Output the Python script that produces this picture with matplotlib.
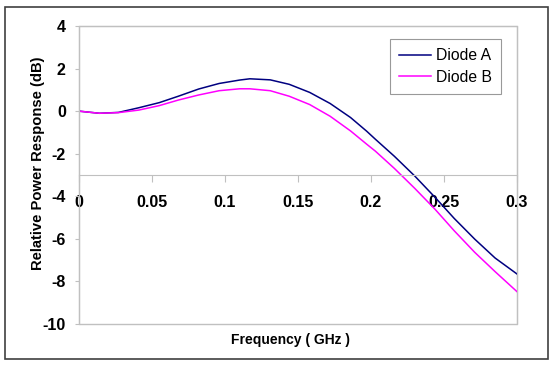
import matplotlib
matplotlib.use("Agg")
import matplotlib.pyplot as plt
from matplotlib.patches import Rectangle

plt.rcParams['font.family'] = ['Liberation Sans', 'DejaVu Sans']
plt.rcParams['axes.unicode_minus'] = False

# frequency points (GHz) and responses (dB)
freq = [0.0, 0.014, 0.027, 0.041, 0.055, 0.068, 0.082, 0.096, 0.11, 0.117,
        0.131, 0.144, 0.158, 0.172, 0.186, 0.197, 0.203, 0.216, 0.23, 0.244,
        0.257, 0.271, 0.285, 0.3]
diode_a = [0.00, -0.10, -0.06, 0.16, 0.40, 0.70, 1.04, 1.30, 1.46, 1.52,
           1.47, 1.26, 0.88, 0.36, -0.30, -0.94, -1.32, -2.12, -3.05, -4.06,
           -5.04, -6.01, -6.90, -7.65]
diode_b = [0.00, -0.10, -0.07, 0.05, 0.26, 0.52, 0.76, 0.96, 1.05, 1.05,
           0.96, 0.70, 0.31, -0.24, -0.93, -1.55, -1.88, -2.69, -3.63, -4.62,
           -5.62, -6.63, -7.54, -8.48]

xticks = [0, 0.05, 0.1, 0.15, 0.2, 0.25, 0.3]
xtick_labels = ['0', '0.05', '0.1', '0.15', '0.2', '0.25', '0.3']
yticks = [-10, -8, -6, -4, -2, 0, 2, 4]

grey = '#c0c0c0'

fig = plt.figure(figsize=(5.55, 3.65), dpi=100)
ax = fig.add_axes([79 / 555, 41 / 365, 438 / 555, 298 / 365])

ax.plot(freq, diode_a, color='#000080', lw=1.1, label='Diode A')
ax.plot(freq, diode_b, color='#ff00ff', lw=1.1, label='Diode B')

ax.set_xlim(0, 0.3)
ax.set_ylim(-10, 4)

# Excel-style: category axis crosses at -3
for side in ['top', 'right', 'left']:
    ax.spines[side].set_color(grey)
ax.spines['bottom'].set_position(('data', -3))
ax.spines['bottom'].set_color(grey)
ax.add_patch(Rectangle((0, 0), 1, 1, transform=ax.transAxes, fill=False,
                       edgecolor=grey, lw=1, clip_on=False))

ax.set_xticks(xticks)
ax.set_xticklabels(xtick_labels)
ax.set_yticks(yticks)
ax.tick_params(axis='x', direction='out', length=5, color=grey, pad=9.5,
               labelsize=11.5)
ax.tick_params(axis='y', direction='out', length=3, color=grey, pad=6.5,
               labelsize=11.5)
for lab in ax.get_xticklabels() + ax.get_yticklabels():
    lab.set_fontweight('bold')

ax.set_xlabel('Frequency ( GHz )', fontsize=10, fontweight='bold')
ax.set_ylabel('Relative Power Response (dB)', fontsize=10.6, fontweight='bold')
ax.xaxis.set_label_coords(0.484, -0.03)
ax.yaxis.set_label_coords(-0.078, 0.541)

leg = ax.legend(loc='upper right', bbox_to_anchor=(501 / 555, 326 / 365),
                bbox_transform=fig.transFigure, borderaxespad=0,
                fontsize=11.3, frameon=True, fancybox=False,
                edgecolor='#808080', handlelength=2.0, borderpad=0.6,
                labelspacing=0.4, handletextpad=0.3)
leg.get_frame().set_linewidth(0.8)

# outer chart border
fig.patches.append(Rectangle((5 / 555, 6 / 365), 543 / 555, 352 / 365,
                             transform=fig.transFigure, fill=False,
                             edgecolor='#404040', lw=1.2))

fig.savefig('out.png', dpi=100)
